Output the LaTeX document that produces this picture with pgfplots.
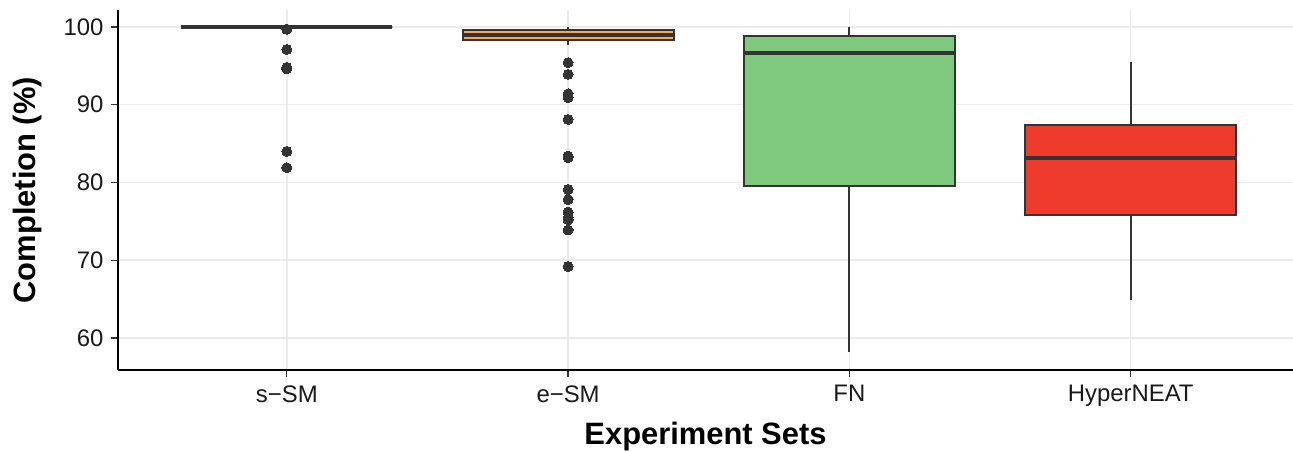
\documentclass[border=0pt]{standalone}
\usepackage{fontspec}
\setmainfont{Liberation Sans}
\usepackage{pgfplots}
\usepgfplotslibrary{statistics}
\pgfplotsset{compat=1.18}
\definecolor{dk}{HTML}{333333}
\definecolor{gridc}{HTML}{EBEBEB}
\definecolor{orng}{HTML}{FDA65A}
\definecolor{grn}{HTML}{7FC97F}
\definecolor{rd}{HTML}{EF3B2C}
\definecolor{prp}{HTML}{BEAED4}

\begin{document}
\begin{tikzpicture}
\begin{axis}[
    scale only axis,
    width=1175bp, height=359.5bp,
    xmin=0.4, xmax=4.577,
    ymin=55.9, ymax=102.1,
    axis x line*=bottom, axis y line*=left,
    axis line style={black, line width=1.4bp},
    xtick={1,2,3,4},
    xticklabels={s−SM,e−SM,FN,HyperNEAT},
    ytick={60,70,80,90,100},
    grid=major,
    major grid style={gridc, line width=1.6bp},
    tick align=outside,
    major tick length=7bp,
    tick style={dk, line width=1.4bp},
    tick label style={font=\fontsize{24}{28}\selectfont, text=black!90},
    xticklabel style={yshift=-5bp},
    yticklabel style={xshift=-4bp},
    /pgf/number format/assume math mode=true,
    xlabel={Experiment Sets},
    ylabel={Completion (\%)},
    every axis x label/.style={at={(axis description cs:0.5,-0.2086)}, anchor=base,
        font=\fontsize{31}{36}\selectfont\bfseries},
    every axis y label/.style={at={(axis description cs:-0.0770,0.5)}, anchor=center, rotate=90,
        font=\fontsize{31}{36}\selectfont\bfseries},
    boxplot/draw direction=y,
    boxplot/box extend=0.75,
    boxplot/whisker extend=0,
    boxplot/every median/.style={line width=4bp},
    boxplot/every whisker/.style={dk, line width=2.2bp},
    mark=*, mark size=5bp,
    mark options={fill=dk, draw=dk, line width=0pt},
]
% s-SM
\addplot[draw=dk, fill=prp, line width=2bp, mark=*,
    boxplot prepared={draw position=1, lower whisker=100, lower quartile=100,
        median=100, upper quartile=100, upper whisker=100}]
    table[row sep=\\, y index=0] {data\\ 99.7\\ 97.1\\ 94.8\\ 94.6\\ 84.0\\ 81.9\\};
% e-SM
\addplot[draw=dk, fill=orng, line width=2bp, mark=*,
    boxplot prepared={draw position=2, lower whisker=97.7, lower quartile=98.3,
        median=99.0, upper quartile=99.6, upper whisker=100}]
    table[row sep=\\, y index=0] {data\\ 95.4\\ 93.9\\ 91.4\\ 90.9\\ 88.1\\ 83.4\\ 83.2\\ 79.1\\ 77.8\\ 76.2\\ 75.5\\ 75.2\\ 73.9\\ 69.2\\};
% FN
\addplot[draw=dk, fill=grn, line width=2bp,
    boxplot prepared={draw position=3, lower whisker=58.2, lower quartile=79.5,
        median=96.7, upper quartile=98.8, upper whisker=100}]
    coordinates {};
% HyperNEAT
\addplot[draw=dk, fill=rd, line width=2bp,
    boxplot prepared={draw position=4, lower whisker=64.9, lower quartile=75.8,
        median=83.2, upper quartile=87.4, upper whisker=95.5}]
    coordinates {};
\coordinate (ll) at (rel axis cs:0,0);
\coordinate (ur) at (rel axis cs:1,1);
\end{axis}
\pgfresetboundingbox
\path[use as bounding box] ([shift={(-118bp,-82bp)}]ll) rectangle ([shift={(0bp,10.5bp)}]ur);
\end{tikzpicture}
\end{document}
